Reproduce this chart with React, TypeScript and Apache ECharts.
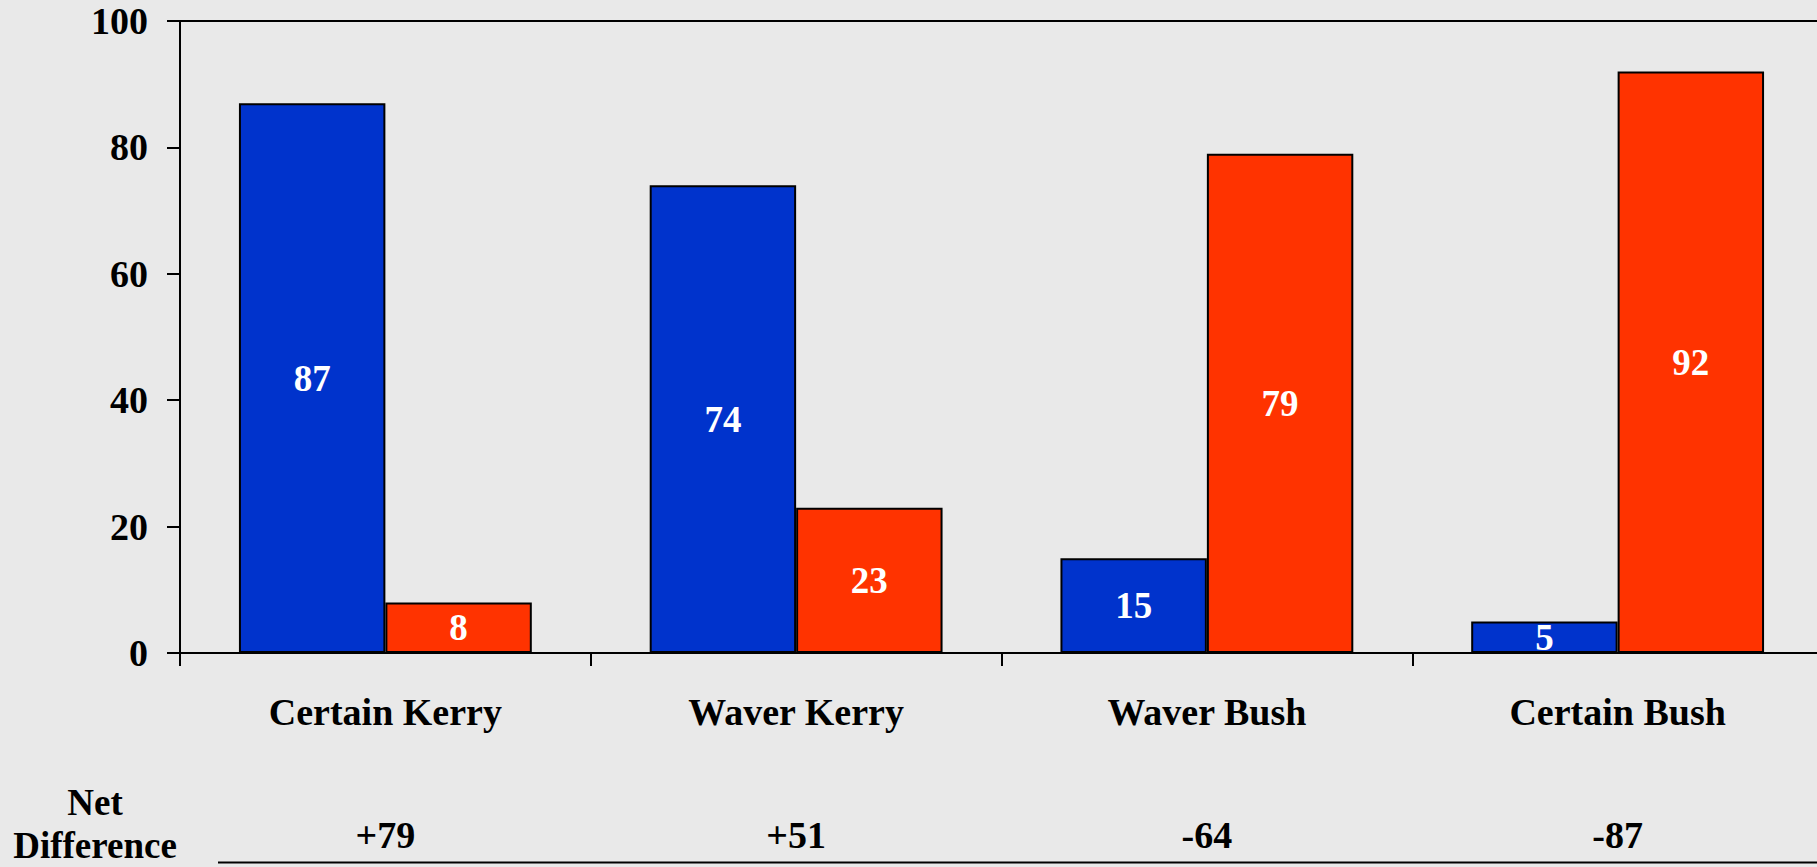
import React, { useEffect, useRef } from "react";
import * as echarts from "echarts";

const categories = ["Certain Kerry", "Waver Kerry", "Waver Bush", "Certain Bush"];
const kerryValues = [87, 74, 15, 5];
const bushValues = [8, 23, 79, 92];
const netDifference = ["+79", "+51", "-64", "-87"];
const yTicks = { min: 0, max: 100, interval: 20 };

const FONT = "'Liberation Serif', 'Times New Roman', serif";
const BLUE = "#0033CC";
const RED = "#FF3300";
const BG = "#E9E9E9";

export default function App() {
  const ref = useRef<HTMLDivElement>(null);
  useEffect(() => {
    if (!ref.current) return;
    const chart = echarts.init(ref.current, null, { renderer: "svg" });
    const barLabel = {
      show: true,
      position: "inside",
      color: "#FFFFFF",
      fontFamily: FONT,
      fontWeight: "bold",
      fontSize: 37,
    };
    chart.setOption({
      animation: false,
      backgroundColor: BG,
      grid: {
        left: 180,
        top: 21,
        right: -6,
        bottom: 214,
        containLabel: false,
        outerBoundsMode: "none",
        show: true,
        borderColor: "#000",
        borderWidth: 2,
        backgroundColor: "transparent",
      },
      xAxis: [
        {
          type: "category",
          data: categories,
          axisLine: { show: true, lineStyle: { color: "#000", width: 2 } },
          axisTick: { show: true, length: 13, lineStyle: { color: "#000", width: 2 } },
          axisLabel: {
            margin: 40,
            color: "#000",
            fontFamily: FONT,
            fontWeight: "bold",
            fontSize: 38,
          },
        },
        {
          type: "category",
          data: netDifference,
          position: "bottom",
          offset: 140,
          axisLine: { show: false },
          axisTick: { show: false },
          axisLabel: {
            margin: 23,
            color: "#000",
            fontFamily: FONT,
            fontWeight: "bold",
            fontSize: 38,
          },
        },
      ],
      yAxis: {
        type: "value",
        min: yTicks.min,
        max: yTicks.max,
        interval: yTicks.interval,
        axisLine: { show: true, lineStyle: { color: "#000", width: 2 } },
        axisTick: { show: true, length: 13, lineStyle: { color: "#000", width: 2 } },
        splitLine: { show: false },
        axisLabel: {
          margin: 32,
          color: "#000",
          fontFamily: FONT,
          fontWeight: "bold",
          fontSize: 38,
        },
      },
      series: [
        {
          name: "Kerry",
          type: "bar",
          data: kerryValues,
          barGap: "0%",
          barCategoryGap: "28.7%",
          itemStyle: { color: BLUE, borderColor: "#000", borderWidth: 2 },
          label: barLabel,
        },
        {
          name: "Bush",
          type: "bar",
          data: bushValues,
          barGap: "0%",
          barCategoryGap: "28.7%",
          itemStyle: { color: RED, borderColor: "#000", borderWidth: 2 },
          label: barLabel,
        },
      ],
      graphic: [
        {
          type: "text",
          x: 95,
          y: 824,
          style: {
            text: "Net\nDifference",
            fill: "#000",
            font: `bold 37px ${FONT}`,
            align: "center",
            verticalAlign: "middle",
            lineHeight: 43,
          },
        },
        {
          type: "line",
          shape: { x1: 218, y1: 862.5, x2: 1817, y2: 862.5 },
          style: { stroke: "#000", lineWidth: 2 },
        },
      ],
    });
    return () => chart.dispose();
  }, []);
  return (
    <div
      ref={ref}
      style={{ position: "absolute", left: 0, top: 0, width: 1817, height: 867 }}
    />
  );
}
